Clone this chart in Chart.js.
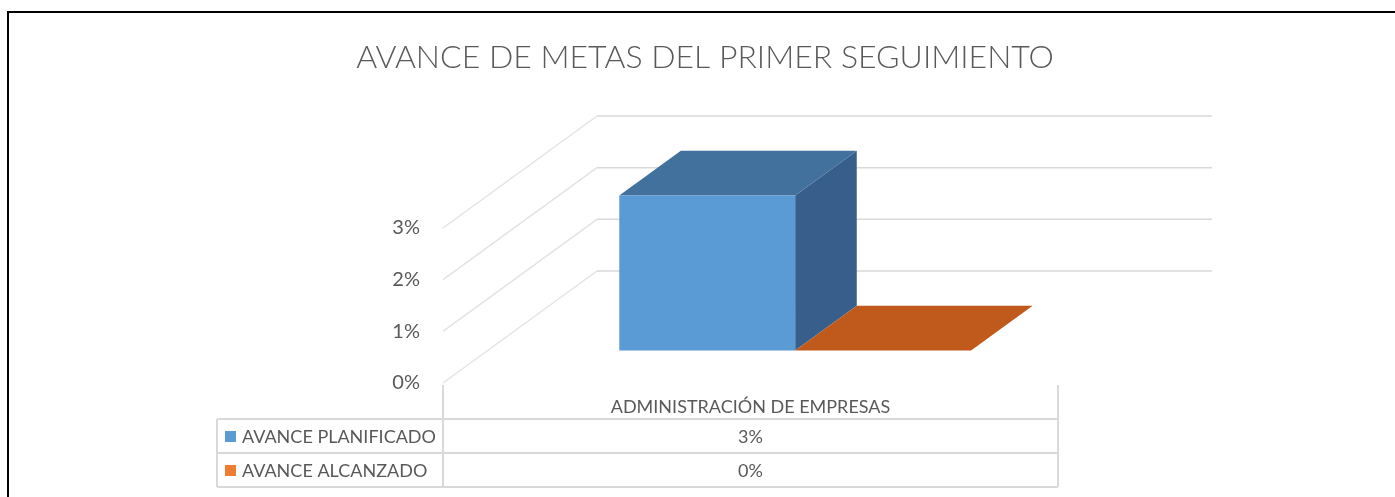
<!DOCTYPE html>
<html>
<head>
<meta charset="utf-8">
<title>Avance de metas</title>
<script src="https://cdn.jsdelivr.net/npm/chart.js@4"></script>
<style>
html, body { margin: 0; padding: 0; background: #fff; }
#wrap { position: relative; width: 1395px; height: 497px; overflow: hidden; }
#graphCanvas { position: absolute; left: 0; top: 0; }
/* marco negro del recuadro (solo arriba e izquierda se ven) */
#frame { position: absolute; left: 7px; top: 11px; width: 1420px; height: 520px;
         border-left: 2px solid #000; border-top: 2px solid #000; pointer-events: none; }
</style>
</head>
<body>
<div id="wrap">
  <canvas id="graphCanvas" width="1395" height="497"></canvas>
  <div id="frame"></div>
</div>
<script>
// datos del gráfico
const chartTitle = 'AVANCE DE METAS DEL PRIMER SEGUIMIENTO';
const categories = ['ADMINISTRACIÓN DE EMPRESAS'];
const seriesNames = ['AVANCE PLANIFICADO', 'AVANCE ALCANZADO'];
const plannedValues = [0.03];
const achievedValues = [0];
const yTickValues = [0, 0.01, 0.02, 0.03];

// colores de cada serie: frente, tapa, lado
const frontColors = ['#5b9bd5', '#ed7d31'];
const topColors = ['#41719c', '#c0591c'];
const sideColors = ['#385f8c', '#a94d16'];

const FONT = 'Lato, "Open Sans", sans-serif';
const TEXT_COLOR = '#595959';
const GRID_COLOR = '#d9d9d9';

// perspectiva del 3D (vector de profundidad y posición de las barras en él)
const DEPTH_DX = 154;
const DEPTH_DY = -112;
const BAR_FRONT = 0.29;
const BAR_BACK = 0.69;

const TABLE_LEFT = 217;
const ROW_H = 34;

function pct(v) {
    return Math.round(v * 100) + '%';
}

// dibuja paredes, rejilla y cajas 3D en lugar de las barras planas
const fake3d = {
    id: 'fake3d',
    beforeDatasetsDraw(chart) {
        const ctx = chart.ctx;
        const x = chart.scales.x;
        const y = chart.scales.y;

        ctx.save();
        // rejilla: línea inclinada en la pared izquierda + línea en la pared del fondo
        yTickValues.forEach(function(v) {
            let py = y.getPixelForValue(v);
            ctx.strokeStyle = '#e3e3e3';
            ctx.lineWidth = 1.5;
            ctx.beginPath();
            ctx.moveTo(x.left, py);
            ctx.lineTo(x.left + DEPTH_DX, py + DEPTH_DY);
            ctx.stroke();
            ctx.strokeStyle = GRID_COLOR;
            ctx.beginPath();
            ctx.moveTo(x.left + DEPTH_DX, py + DEPTH_DY);
            ctx.lineTo(x.right + DEPTH_DX, py + DEPTH_DY);
            ctx.stroke();
        });

        // cajas
        chart.data.datasets.forEach(function(ds, di) {
            let meta = chart.getDatasetMeta(di);
            meta.data.forEach(function(el) {
                let l = el.x - el.width / 2;
                let r = el.x + el.width / 2;
                let t = el.y;
                let b = el.base;
                let fx = BAR_FRONT * DEPTH_DX, fy = BAR_FRONT * DEPTH_DY;
                let bx = BAR_BACK * DEPTH_DX, by = BAR_BACK * DEPTH_DY;

                // lado derecho
                ctx.fillStyle = sideColors[di];
                ctx.beginPath();
                ctx.moveTo(r + fx, t + fy);
                ctx.lineTo(r + bx, t + by);
                ctx.lineTo(r + bx, b + by);
                ctx.lineTo(r + fx, b + fy);
                ctx.closePath();
                ctx.fill();

                // tapa
                ctx.fillStyle = topColors[di];
                ctx.beginPath();
                ctx.moveTo(l + fx, t + fy);
                ctx.lineTo(l + bx, t + by);
                ctx.lineTo(r + bx, t + by);
                ctx.lineTo(r + fx, t + fy);
                ctx.closePath();
                ctx.fill();

                // frente
                if (b - t > 0) {
                    ctx.fillStyle = frontColors[di];
                    ctx.fillRect(l + fx, t + fy, r - l, b - t);
                }
            });
        });
        ctx.restore();
        return false; // no dibujar las barras planas de Chart.js
    },
    afterDraw(chart) {
        const ctx = chart.ctx;
        const x = chart.scales.x;
        const area = chart.chartArea;

        ctx.save();
        // título
        ctx.fillStyle = TEXT_COLOR;
        ctx.font = '300 32px ' + FONT;
        ctx.textAlign = 'center';
        ctx.textBaseline = 'middle';
        ctx.fillText(chartTitle, 705, 58);

        // tabla de datos
        let top = area.bottom + 2;
        let r1 = top + ROW_H;
        let r2 = r1 + ROW_H;
        let r3 = r2 + ROW_H;
        ctx.strokeStyle = GRID_COLOR;
        ctx.lineWidth = 2;
        ctx.beginPath();
        ctx.moveTo(x.left, top); ctx.lineTo(x.left, r3);
        ctx.moveTo(x.right, top); ctx.lineTo(x.right, r3);
        ctx.moveTo(TABLE_LEFT, r1); ctx.lineTo(TABLE_LEFT, r3);
        [r1, r2, r3].forEach(function(ry) {
            ctx.moveTo(TABLE_LEFT, ry); ctx.lineTo(x.right, ry);
        });
        ctx.stroke();

        ctx.font = '18px ' + FONT;
        ctx.fillStyle = TEXT_COLOR;
        ctx.textBaseline = 'middle';
        categories.forEach(function(c, i) {
            ctx.textAlign = 'center';
            ctx.fillText(c, x.getPixelForValue(i), top + ROW_H / 2 + 5);
        });

        let rowValues = [plannedValues, achievedValues];
        seriesNames.forEach(function(name, si) {
            let cy = r1 + ROW_H * si + ROW_H / 2;
            ctx.fillStyle = frontColors[si];
            ctx.fillRect(TABLE_LEFT + 8, cy - 5, 11, 11);
            ctx.fillStyle = TEXT_COLOR;
            ctx.textAlign = 'left';
            ctx.fillText(name, TABLE_LEFT + 25, cy + 1);
            ctx.textAlign = 'center';
            rowValues[si].forEach(function(v, i) {
                ctx.fillText(pct(v), x.getPixelForValue(i), cy + 1);
            });
        });
        ctx.restore();
    }
};

let graphCanvas = document.getElementById('graphCanvas').getContext('2d');
let barChart = new Chart(graphCanvas, {
    type: 'bar',
    data: {
        labels: categories,
        datasets: [{
            label: seriesNames[0],
            backgroundColor: frontColors[0],
            data: plannedValues
        }, {
            label: seriesNames[1],
            backgroundColor: frontColors[1],
            data: achievedValues
        }]
    },
    options: {
        responsive: false,
        animation: false,
        events: [],
        layout: {
            padding: { left: 0, right: 337, top: 228, bottom: 114 }
        },
        datasets: {
            bar: { categoryPercentage: 0.572, barPercentage: 1 }
        },
        plugins: {
            legend: { display: false },
            title: { display: false },
            tooltip: { enabled: false }
        },
        scales: {
            x: { display: false },
            y: {
                min: 0,
                max: 0.03,
                afterFit: function(scale) { scale.width = 443; },
                grid: { display: false },
                border: { display: false },
                ticks: {
                    stepSize: 0.01,
                    padding: 15,
                    color: TEXT_COLOR,
                    font: { family: FONT, size: 20 },
                    callback: function(v) { return pct(v); }
                }
            }
        }
    },
    plugins: [fake3d]
});
</script>
</body>
</html>
